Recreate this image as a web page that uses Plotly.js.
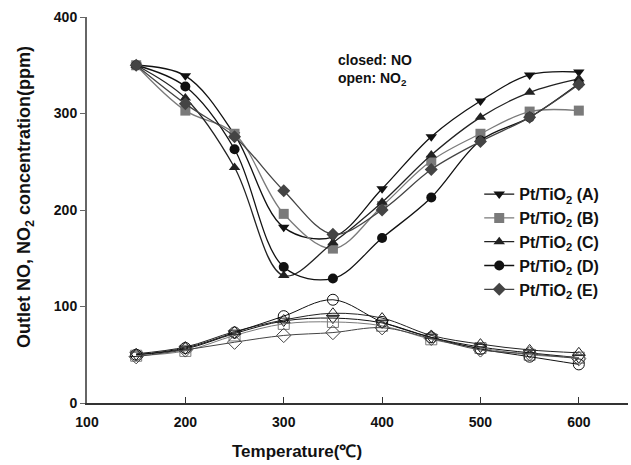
<!DOCTYPE html>
<html><head><meta charset="utf-8">
<script src="https://cdn.plot.ly/plotly-3.0.1.min.js"></script>
<style>html,body{margin:0;padding:0;background:#fff}#c{width:631px;height:465px}</style>
</head><body><div id="c"></div>
<script>
const temps = [150, 200, 250, 300, 350, 400, 450, 500, 550, 600];
const seriesNames = ['Pt/TiO<sub>2</sub> (A)', 'Pt/TiO<sub>2</sub> (B)', 'Pt/TiO<sub>2</sub> (C)', 'Pt/TiO<sub>2</sub> (D)', 'Pt/TiO<sub>2</sub> (E)'];
const noA = [350, 339, 278, 182, 172, 222, 276, 313, 340, 343];
const noB = [350, 303, 279, 196, 160, 204, 251, 279, 302, 303];
const noC = [350, 316, 244, 132, 166, 208, 257, 296, 322, 336];
const noD = [350, 328, 263, 141, 129, 171, 213, 272, 296, 331];
const noE = [350, 310, 276, 220, 175, 200, 242, 271, 296, 330];
const no2A = [50, 56, 72, 85, 88, 83, 68, 58, 52, 47];
const no2B = [49, 54, 70, 82, 84, 80, 66, 57, 50, 47];
const no2C = [51, 58, 74, 86, 93, 88, 70, 61, 55, 52];
const no2D = [50, 57, 73, 90, 107, 84, 68, 56, 48, 40];
const no2E = [48, 55, 63, 70, 73, 78, 67, 55, 51, 46];

const noData = [noA, noB, noC, noD, noE];
const no2Data = [no2A, no2B, no2C, no2D, no2E];
const colors = ['#111111', '#7a7a7a', '#222222', '#111111', '#444444'];
const symbols = ['triangle-down', 'square', 'triangle-up', 'circle', 'diamond'];

const traces = [];
for (let i = 0; i < 5; i++) {
  traces.push({
    x: temps, y: noData[i], name: seriesNames[i], type: 'scatter', mode: 'lines+markers',
    line: {color: colors[i], width: 1.3, shape: 'spline', smoothing: 1},
    marker: {symbol: symbols[i], size: 10, color: colors[i], line: {width: 0}}
  });
}
for (let i = 0; i < 5; i++) {
  traces.push({
    x: temps, y: no2Data[i], name: seriesNames[i] + ' NO2', type: 'scatter', mode: 'lines+markers',
    showlegend: false,
    line: {color: colors[i], width: 1, shape: 'spline', smoothing: 1},
    marker: {symbol: symbols[i] + '-open', size: 11, color: colors[i], line: {width: 1}}
  });
}

const FAM = 'Liberation Sans, Arial, sans-serif';
const layout = {
  width: 631, height: 465,
  margin: {l: 87, r: 3, t: 17, b: 62},
  paper_bgcolor: '#fff', plot_bgcolor: '#fff',
  font: {family: FAM, color: '#111'},
  showlegend: true,
  legend: {x: 0.725, y: 0.585, xanchor: 'left', yanchor: 'top', bgcolor: 'rgba(0,0,0,0)',
    font: {family: FAM, size: 16, color: '#111', weight: 'bold'},
    tracegroupgap: 0},
  xaxis: {
    range: [100, 650], tickvals: [100, 200, 300, 400, 500, 600], ticks: 'inside', ticklen: 6,
    tickcolor: '#333', showgrid: false, zeroline: false, showline: true, linecolor: '#333', linewidth: 1.5,
    ticklabelstandoff: 6,
    tickfont: {family: FAM, size: 14, color: '#111', weight: 'bold'}
  },
  yaxis: {
    range: [0, 400], tickvals: [0, 100, 200, 300, 400], ticks: 'outside', ticklen: 5,
    tickcolor: '#666', showgrid: false, zeroline: false, showline: true, linecolor: '#666', linewidth: 2,
    tickfont: {family: FAM, size: 14, color: '#111', weight: 'bold'}
  },
  annotations: [{
    xref: 'paper', yref: 'paper', x: 0.461, y: 0.915, xanchor: 'left', yanchor: 'top', showarrow: false, align: 'left',
    text: 'closed: NO<br>open: NO<sub>2</sub>',
    font: {family: FAM, size: 14, color: '#111', weight: 'bold'}
  }, {
    xref: 'paper', yref: 'paper', x: (297 - 87) / 541, y: -(451 - 403) / 386, xanchor: 'center', yanchor: 'middle', showarrow: false,
    text: 'Temperature(℃)',
    font: {family: FAM, size: 17, color: '#111', weight: 'bold'}
  }, {
    xref: 'paper', yref: 'paper', x: -(87 - 25) / 541, y: (403 - 197) / 386, xanchor: 'center', yanchor: 'middle', showarrow: false,
    textangle: -90,
    text: 'Outlet NO, NO<sub>2</sub> concentration(ppm)',
    font: {family: FAM, size: 18, color: '#111', weight: 'bold'}
  }]
};
Plotly.newPlot('c', traces, layout, {displayModeBar: false, staticPlot: true});
</script>
</body></html>
